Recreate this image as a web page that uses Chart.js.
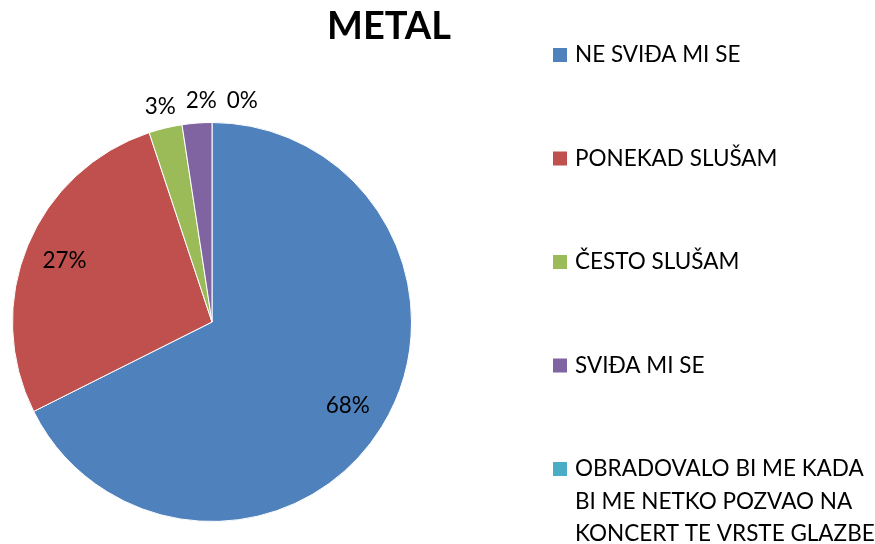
<!DOCTYPE html>
<html>
<head>
<meta charset="utf-8">
<script src="https://cdn.jsdelivr.net/npm/chart.js@4.4.1/dist/chart.umd.min.js"></script>
<style>
  html, body { margin: 0; padding: 0; background: #fff; }
  #wrap { width: 875px; height: 544px; position: relative; }
</style>
</head>
<body>
<div id="wrap"><canvas id="pie1" width="875" height="544"></canvas></div>
<script>
var chartTitle = "METAL";
var categories = [
  ["NE SVIĐA MI SE"],
  ["PONEKAD SLUŠAM"],
  ["ČESTO SLUŠAM"],
  ["SVIĐA MI SE"],
  ["OBRADOVALO BI ME KADA", "BI ME NETKO POZVAO NA", "KONCERT TE VRSTE GLAZBE"]
];
var shares = [67.6, 27.3, 2.7, 2.4, 0];
var colors = ['#4F81BD', '#C0504D', '#9BBB59', '#8064A2', '#4BACC6'];

var FONT = "Lato, 'Open Sans', sans-serif";

// slice labels: big ones inside, small ones outside and spread sideways
var sliceLabels = {
  id: 'sliceLabels',
  afterDatasetsDraw: function(chart) {
    var ctx = chart.ctx;
    var arcs = chart.getDatasetMeta(0).data;
    var outside = [];
    ctx.save();
    ctx.font = "22.5px " + FONT;
    ctx.fillStyle = '#000';
    ctx.textAlign = 'center';
    ctx.textBaseline = 'middle';
    arcs.forEach(function(arc, i) {
      var mid = (arc.startAngle + arc.endAngle) / 2;
      var txt = Math.round(shares[i]) + '%';
      if (shares[i] >= 10) {
        var r = arc.outerRadius * 0.8;
        ctx.fillText(txt, arc.x + Math.cos(mid) * r, arc.y + Math.sin(mid) * r);
      } else {
        var ro = arc.outerRadius + 22;
        outside.push({ t: txt, x: arc.x + Math.cos(mid) * ro, y: arc.y + Math.sin(mid) * ro });
      }
    });
    outside.sort(function(a, b) { return a.x - b.x; });
    for (var k = 1; k < outside.length; k++) {
      if (outside[k].x < outside[k - 1].x + 41) outside[k].x = outside[k - 1].x + 41;
    }
    outside.forEach(function(o) { ctx.fillText(o.t, o.x, o.y); });
    ctx.restore();
  }
};

// title and legend drawn to match the original layout
var sideLegend = {
  id: 'sideLegend',
  afterDraw: function(chart) {
    var ctx = chart.ctx;
    ctx.save();
    ctx.fillStyle = '#000';
    ctx.textAlign = 'center';
    ctx.textBaseline = 'middle';
    ctx.font = "bold 38px " + FONT;
    ctx.fillText(chartTitle, 389, 27);

    ctx.textAlign = 'left';
    ctx.font = "22.5px " + FONT;
    categories.forEach(function(lines, i) {
      var cy = 55 + i * 103.5;
      ctx.fillStyle = colors[i];
      ctx.fillRect(553, cy - 7, 14, 14);
      ctx.fillStyle = '#000';
      lines.forEach(function(line, j) {
        ctx.fillText(line, 575, cy + j * 32.5);
      });
    });
    ctx.restore();
  }
};

var pie1e = document.getElementById("pie1");
var pie1 = new Chart(pie1e, {
  type: 'pie',
  data: {
    labels: categories,
    datasets: [{
      label: chartTitle,
      data: shares,
      backgroundColor: colors,
      borderColor: '#ffffff',
      borderWidth: 1
    }]
  },
  options: {
    responsive: false,
    animation: false,
    layout: { padding: { left: 12, top: 122, right: 463, bottom: 22 } },
    plugins: {
      legend: { display: false },
      title: { display: false },
      tooltip: { enabled: false }
    }
  },
  plugins: [sliceLabels, sideLegend]
});
</script>
</body>
</html>
